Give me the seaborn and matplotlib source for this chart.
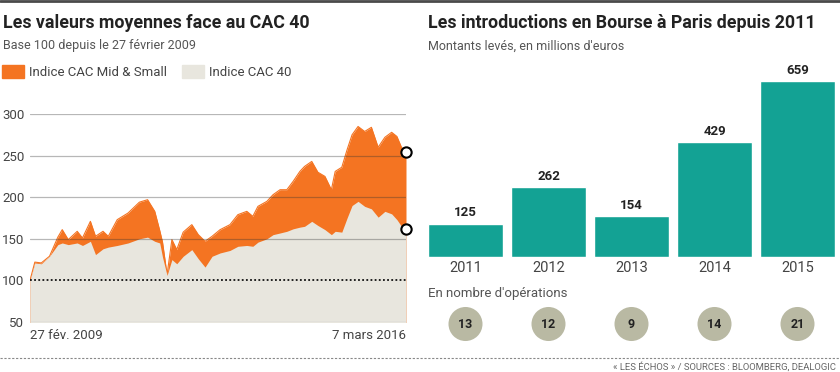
import numpy as np
import pandas as pd
import matplotlib.pyplot as plt
import seaborn as sns
from matplotlib.patches import Patch
from matplotlib.lines import Line2D

# Indices base 100 au 27 février 2009
dates = ["2009-02-27", "2009-04-01", "2009-05-15", "2009-07-10", "2009-09-05",
         "2009-10-05", "2009-11-15", "2010-01-15", "2010-02-20", "2010-04-15",
         "2010-05-20", "2010-07-10", "2010-08-15", "2010-10-15", "2010-12-28",
         "2011-03-15", "2011-05-10", "2011-06-28", "2011-08-01", "2011-08-20",
         "2011-09-20", "2011-10-23", "2011-11-25", "2012-01-08", "2012-03-07",
         "2012-04-20", "2012-06-05", "2012-07-23", "2012-09-16", "2012-11-22",
         "2013-01-15", "2013-03-17", "2013-04-27", "2013-06-01", "2013-08-01",
         "2013-09-12", "2013-10-30", "2013-12-15", "2014-01-27", "2014-03-14",
         "2014-04-15", "2014-06-03", "2014-07-15", "2014-09-01", "2014-10-15",
         "2014-11-10", "2014-12-25", "2015-01-30", "2015-03-05", "2015-04-15",
         "2015-05-30", "2015-07-15", "2015-08-30", "2015-10-15", "2015-11-30",
         "2016-01-05", "2016-02-05", "2016-03-07"]
mid_small = [100, 122, 121, 129, 152,
             161, 149, 159, 151, 171,
             153, 159, 153, 173, 181,
             194, 197, 183, 160, 146,
             107, 149, 137, 158, 167,
             155, 147, 153, 161, 167,
             179, 183, 177, 189, 195,
             203, 209, 209, 219, 231,
             237, 243, 230, 225, 209,
             231, 236, 257, 275, 285,
             279, 284, 260, 272, 278,
             273, 260, 254]
cac40 = [100, 121, 120, 129, 143,
         145, 143, 145, 142, 147,
         131, 138, 140, 142, 145,
         150, 152, 147, 145, 128,
         106, 125, 120, 129, 137,
         126, 116, 129, 133, 136,
         141, 142, 141, 146, 150,
         155, 157, 159, 162, 164,
         165, 171, 166, 161, 155,
         159, 158, 175, 190, 195,
         189, 186, 176, 183, 180,
         173, 165, 162]

# Introductions en Bourse
annees = ["2011", "2012", "2013", "2014", "2015"]
montants = [125, 262, 154, 429, 659]
operations = [13, 12, 9, 14, 21]

ORANGE = "#f47422"
BEIGE = "#e8e6de"
TEAL = "#13a294"
GRIS_CERCLE = "#b9b9a3"
TEXTE = "#222222"
GRIS_TEXTE = "#555555"

sns.set_theme(style="white")
plt.rcParams['font.family'] = ['Roboto', 'DejaVu Sans']

W, H = 840, 372
fig = plt.figure(figsize=(W / 100, H / 100), dpi=100)


def fx(px):
    return px / W


def fy(py):
    return 1 - py / H


# Cadre général
fig.add_artist(Line2D([0, 1], [fy(1), fy(1)], color="#4a4a4a", lw=2))
fig.add_artist(Line2D([0, 1], [fy(358), fy(358)], color="#888888", lw=0.8,
                      dashes=(2, 1.5)))
fig.text(fx(836), fy(367), "« LES ÉCHOS » / SOURCES : BLOOMBERG, DEALOGIC",
         ha="right", va="center", fontsize=6.8, color="#666666")

# ---- Graphique de gauche : indices ----
df = pd.DataFrame({"date": pd.to_datetime(dates), "mid": mid_small, "cac": cac40})

ax1 = fig.add_axes([fx(30), fy(322), fx(376), (322 - 114) / H])
ax1.fill_between(df["date"], 0, df["mid"], color=ORANGE, lw=0, zorder=1)
sns.lineplot(data=df, x="date", y="mid", color=ORANGE, lw=0.8, ax=ax1, zorder=1)
ax1.fill_between(df["date"], 0, df["cac"], color=BEIGE, lw=0, zorder=2)

for v in [150, 200, 250, 300]:
    ax1.axhline(v, color="#333333", lw=0.9, alpha=0.35, zorder=3)
ax1.axhline(100, color="#111111", lw=1.3, dashes=(1, 1.3), zorder=3)
ax1.axhline(50, color="#cccccc", lw=1, zorder=3)

ax1.scatter([df["date"].iloc[-1]] * 2, [df["mid"].iloc[-1], df["cac"].iloc[-1]],
            s=55, facecolor="white", edgecolor="black", lw=1.5, zorder=5,
            clip_on=False)

ax1.set_xlim(df["date"].iloc[0], df["date"].iloc[-1])
ax1.set_ylim(50, 300)
ax1.set_yticks([50, 100, 150, 200, 250, 300])
ax1.tick_params(axis="y", length=0, pad=4, labelsize=9.5, labelcolor="#444444")
ax1.set_xticks([])
ax1.set_xlabel("")
ax1.set_ylabel("")
sns.despine(ax=ax1, left=True, bottom=True)
ax1.text(0, -0.063, "27 fév. 2009", transform=ax1.transAxes, ha="left",
         va="center", fontsize=9.5, color="#444444")
ax1.text(1, -0.063, "7 mars 2016", transform=ax1.transAxes, ha="right",
         va="center", fontsize=9.5, color="#444444")

fig.text(fx(3), fy(23), "Les valeurs moyennes face au CAC 40", ha="left",
         va="center", fontsize=12.8, fontweight="bold", color=TEXTE)
fig.text(fx(3), fy(45), "Base 100 depuis le 27 février 2009", ha="left",
         va="center", fontsize=9, color=GRIS_TEXTE)
fig.legend(handles=[Patch(color=ORANGE, label="Indice CAC Mid & Small"),
                    Patch(color=BEIGE, label="Indice CAC 40")],
           loc="center left", bbox_to_anchor=(fx(2), fy(72)), ncol=2,
           frameon=False, fontsize=9.5, handlelength=1.7, handleheight=1.2,
           handletextpad=0.35, columnspacing=1.1, borderpad=0, borderaxespad=0,
           labelcolor="#444444")

# ---- Graphique de droite : introductions en Bourse ----
largeur = 75 / 83
ax2 = fig.add_axes([fx(428), fy(257), fx(407), (257 - 60) / H])
sns.barplot(x=annees, y=montants, color=TEAL, saturation=1, width=largeur, ax=ax2)
ax2.set_xlim(-largeur / 2, len(annees) - 1 + largeur / 2)
ax2.set_ylim(0, 659 * 197 / 176)
ax2.bar_label(ax2.containers[0], padding=3, fontsize=9.5, fontweight="bold",
              color=TEXTE)
ax2.set_yticks([])
ax2.tick_params(axis="x", length=0, pad=3, labelsize=10.5, labelcolor="#444444")
ax2.set_xlabel("")
ax2.set_ylabel("")
sns.despine(ax=ax2, left=True, bottom=True)

fig.text(fx(428), fy(23), "Les introductions en Bourse à Paris depuis 2011",
         ha="left", va="center", fontsize=12.8, fontweight="bold", color=TEXTE)
fig.text(fx(428), fy(46), "Montants levés, en millions d'euros", ha="left",
         va="center", fontsize=9, color=GRIS_TEXTE)
fig.text(fx(428), fy(294), "En nombre d'opérations", ha="left", va="center",
         fontsize=9.5, color=GRIS_TEXTE)

ax3 = fig.add_axes([fx(428), fy(345), fx(407), 42 / H])
pos = np.arange(len(operations))
sns.scatterplot(x=pos, y=np.zeros(len(pos)), s=600, color=GRIS_CERCLE,
                edgecolor="none", ax=ax3, clip_on=False)
for p, n in zip(pos, operations):
    ax3.text(p, 0, str(n), ha="center", va="center", fontsize=9,
             fontweight="bold", color=TEXTE)
ax3.set_xlim(-largeur / 2, len(annees) - 1 + largeur / 2)
ax3.set_ylim(-1, 1)
ax3.axis("off")

fig.savefig("out.png", dpi=100)
